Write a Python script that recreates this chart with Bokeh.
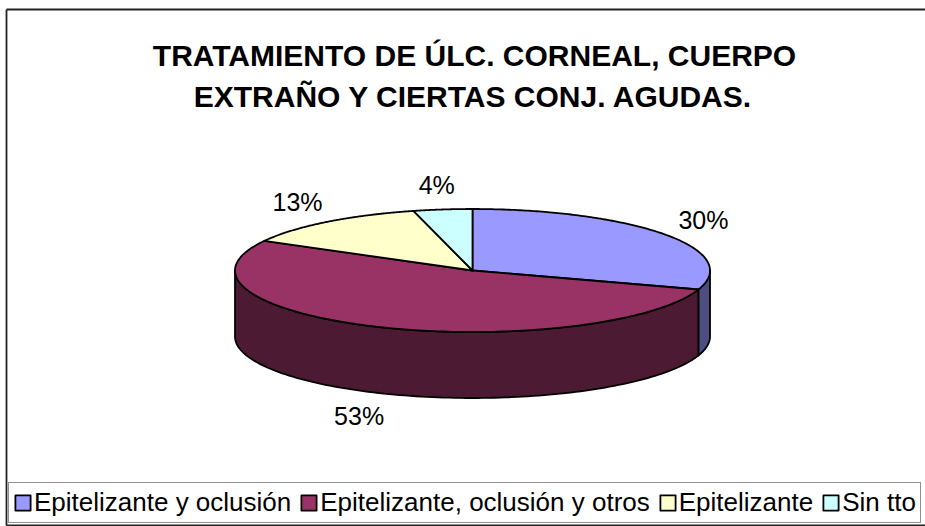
import numpy as np
from bokeh.plotting import figure
from bokeh.models import Legend, LegendItem
from bokeh.core.properties import value
from bokeh.embed import file_html
from bokeh.resources import INLINE

# --- data -------------------------------------------------------------
categories = ["Epitelizante y oclusión", "Epitelizante, oclusión y otros",
              "Epitelizante", "Sin tto"]
percentages = [30, 53, 13, 4]
top_colors = ["#9999FF", "#993366", "#FFFFCC", "#CCFFFF"]
side_colors = ["#4D4D80", "#4D1A33", "#808066", "#668080"]
title_lines = ["TRATAMIENTO DE ÚLC. CORNEAL, CUERPO",
               "EXTRAÑO Y CIERTAS CONJ. AGUDAS."]

# --- layout (screen pixels, y grows downward) -------------------------
W, H = 925, 526
CX, CY = 472.0, 270.0      # centre of the top face
RX, RY = 237.5, 61.5       # radii of the top ellipse
DEPTH = 66.0               # thickness of the disc
FONT = "Liberation Sans"

p = figure(width=W, height=H, x_range=(0, W), y_range=(H, 0),
           output_backend="svg", toolbar_location=None,
           x_axis_location=None, y_axis_location=None,
           min_border=0, outline_line_color=None)
p.grid.visible = False
p.background_fill_color = "white"
p.border_fill_color = "white"

# chart area frame: top, left and bottom sides (the right side is off the page)
p.segment(x0=[6, 6, 6], y0=[9, 9, 525], x1=[W + 20, 6, W + 20], y1=[9, 525, 525],
          line_color="#222222", line_width=1.8)


def ell(t, dy=0.0):
    """Point on the ellipse for angle t measured clockwise from 12 o'clock."""
    return CX + RX * np.sin(t), CY - RY * np.cos(t) + dy


fr = np.array(percentages, dtype=float) / sum(percentages)
ends = np.cumsum(fr) * 2 * np.pi
starts = ends - fr * 2 * np.pi

# side walls: only the front half (pi/2 .. 3pi/2) is visible
for a0, a1, sc in zip(starts, ends, side_colors):
    s, e = max(a0, np.pi / 2), min(a1, 3 * np.pi / 2)
    if e <= s:
        continue
    t = np.linspace(s, e, 120)
    xt, yt = ell(t)
    xb, yb = ell(t[::-1], DEPTH)
    p.patch(np.concatenate([xt, xb]), np.concatenate([yt, yb]),
            fill_color=sc, line_color="black", line_width=1.8,
            line_join="round")

# top faces
tops = []
for a0, a1, tc in zip(starts, ends, top_colors):
    t = np.linspace(a0, a1, 160)
    xt, yt = ell(t)
    r = p.patch(np.concatenate([[CX], xt, [CX]]), np.concatenate([[CY], yt, [CY]]),
                fill_color=tc, line_color="black", line_width=1.8,
                line_join="round")
    tops.append(r)

# percentage labels, placed outside the disc at each slice's mid angle
mids = (starts + ends) / 2
lx = CX + (RX + 48) * np.sin(mids)
ly = CY - (RY + 25) * np.cos(mids)
ly = np.where(np.cos(mids) < 0, ly + DEPTH, ly)
p.text(x=lx, y=ly, text=[f"{v}%" for v in percentages],
       text_font=value(FONT), text_font_size="25px", text_color="black",
       text_align="center", text_baseline="middle")

# title
p.text(x=[474, 473], y=[55, 96], text=title_lines,
       text_font=value(FONT), text_font_size="30px", text_font_style="bold",
       text_color="black", text_align="center", text_baseline="alphabetic")

legend = Legend(items=[LegendItem(label=c, renderers=[r]) for c, r in zip(categories, tops)],
                orientation="horizontal", location=(8, 3),
                glyph_width=19, glyph_height=19, label_standoff=2, spacing=8,
                padding=4, margin=0,
                label_text_font=FONT, label_text_font_size="26px",
                label_text_color="black",
                border_line_color="#222222", border_line_width=1.5,
                background_fill_color="white", background_fill_alpha=1.0)
p.add_layout(legend)

open("out.html", "w").write(file_html(p, INLINE))
